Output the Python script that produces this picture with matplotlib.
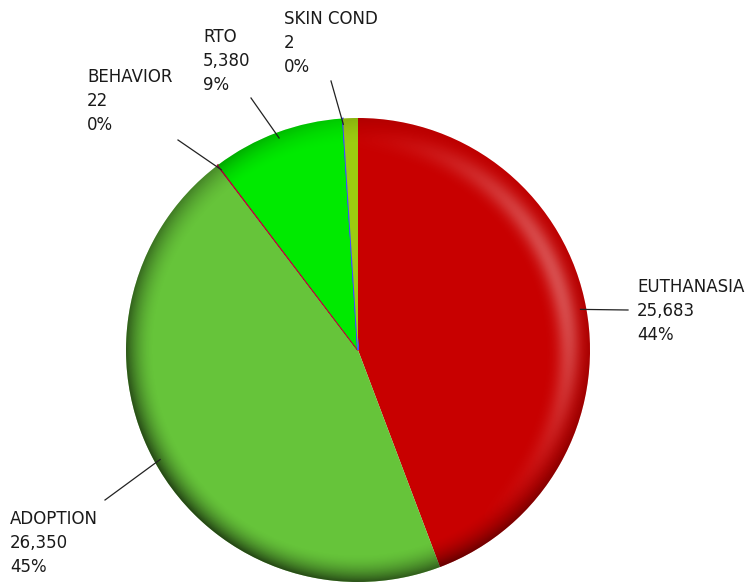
import numpy as np
import matplotlib
matplotlib.use("Agg")
import matplotlib.pyplot as plt
from matplotlib.patches import Circle

categories = ["EUTHANASIA", "ADOPTION", "BEHAVIOR", "RTO", "SKIN COND", ""]
values = [25683, 26350, 22, 5380, 2, 600]
pct_labels = ["44%", "45%", "0%", "9%", "0%", ""]
colors = ["#c80000", "#66c43a", "#c0003c", "#00ea00", "#3c50ff", "#9ccc10"]

W, H = 749, 582
fig = plt.figure(figsize=(W / 100, H / 100), dpi=100)
ax = fig.add_axes([0, 0, 1, 1])

cx, cy, R = 358, H - 350, 232
wedges, _ = ax.pie(values, colors=colors, startangle=90, counterclock=False,
                   center=(cx, cy), radius=R, frame=True,
                   wedgeprops=dict(linewidth=0))
ax.set_xlim(0, W)
ax.set_ylim(0, H)
ax.set_aspect("equal")
ax.axis("off")

# make the tiny slices visible as thin lines
for w, v, c in zip(wedges, values, colors):
    if v < 100:
        w.set_edgecolor(c)
        w.set_linewidth(1.2)

# 3D-like shading overlay
n = 600
xs = np.linspace(cx - R, cx + R, n)
ys = np.linspace(cy - R, cy + R, n)
X, Y = np.meshgrid(xs, ys)
dx, dy = (X - cx) / R, (Y - cy) / R
rho = np.sqrt(dx ** 2 + dy ** 2)
phi = np.arctan2(dy, dx)
rim = np.clip((rho - 0.88) / 0.12, 0, 1) ** 1.8
d = 0.5 * (1 - np.cos(phi - np.deg2rad(50)))
dark = np.zeros((n, n, 4))
dark[..., 3] = np.clip(rim * (0.05 + 0.6 * d), 0, 1)
light = np.ones((n, n, 4))
hl = np.exp(-((rho - 0.91) / 0.05) ** 2) * np.clip(np.cos(phi - np.deg2rad(20)), 0, 1) ** 3
light[..., 3] = np.clip(0.3 * hl, 0, 1)
clip = Circle((cx, cy), R, transform=ax.transData)
for img in (dark, light):
    im = ax.imshow(img, extent=(cx - R, cx + R, cy - R, cy + R), origin="lower",
                   interpolation="bilinear", zorder=3)
    im.set_clip_path(clip)
ax.set_xlim(0, W)
ax.set_ylim(0, H)

# labels with leader lines
label_pos = {"EUTHANASIA": (637, 278), "ADOPTION": (10, 510), "BEHAVIOR": (87, 68),
             "RTO": (203, 28), "SKIN COND": (284, 10)}
line_end = {"EUTHANASIA": (628, 310), "ADOPTION": (105, 500), "BEHAVIOR": (178, 140),
            "RTO": (251, 98), "SKIN COND": (331, 81)}
for w, cat, val, pct in zip(wedges, categories, values, pct_labels):
    if not cat:
        continue
    mid = np.deg2rad((w.theta1 + w.theta2) / 2)
    px, py = cx + 0.975 * R * np.cos(mid), cy + 0.975 * R * np.sin(mid)
    ex, ey = line_end[cat]
    ax.plot([px, ex], [py, H - ey], color="#222222", lw=0.9, zorder=5)
    tx, ty = label_pos[cat]
    ax.text(tx, H - ty, f"{cat}\n{val:,}\n{pct}", ha="left", va="top",
            fontsize=12, family="DejaVu Sans", color="#1a1a1a", linespacing=1.42, zorder=6)

fig.savefig("out.png", dpi=100)
